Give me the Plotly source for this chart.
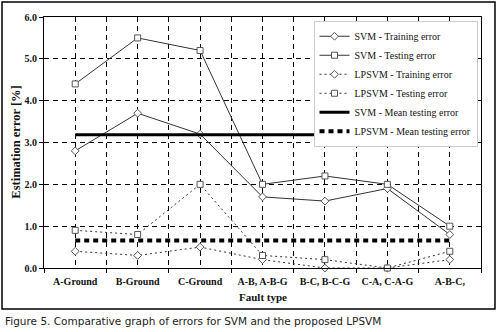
import plotly.graph_objects as go

# Fault categories and error rates [%]
fault_types = ["A-Ground", "B-Ground", "C-Ground", "A-B, A-B-G", "B-C, B-C-G", "C-A, C-A-G", "A-B-C,"]
svm_train = [2.8, 3.7, 3.2, 1.7, 1.6, 1.9, 0.8]
svm_test = [4.4, 5.5, 5.2, 2.0, 2.2, 2.0, 1.0]
lpsvm_train = [0.4, 0.3, 0.5, 0.2, 0.0, 0.0, 0.2]
lpsvm_test = [0.9, 0.8, 2.0, 0.3, 0.2, 0.0, 0.4]
y_ticks = [0, 1, 2, 3, 4, 5, 6]
y_ticktext = ["0.0", "1.0", "2.0", "3.0", "4.0", "5.0", "6.0"]

svm_mean = sum(svm_test) / len(svm_test)
lpsvm_mean = sum(lpsvm_test) / len(lpsvm_test)

xs = list(range(len(fault_types)))
serif = "Liberation Serif"
ink = "#111111"

fig = go.Figure()

def add_series(y, name, symbol, size, dash):
    fig.add_trace(go.Scatter(
        x=xs, y=y, name=name, mode="lines+markers",
        line=dict(color="#333333", width=1, dash=dash),
        marker=dict(symbol=symbol, size=size, color="white",
                    line=dict(color="#555555", width=1)),
        cliponaxis=False,
    ))

add_series(svm_train, "SVM - Training error", "diamond", 6, "solid")
add_series(svm_test, "SVM - Testing error", "square", 6, "solid")
add_series(lpsvm_train, "LPSVM - Training error", "diamond", 6, "2px,3px")
add_series(lpsvm_test, "LPSVM - Testing error", "square", 6, "2px,3px")

fig.add_trace(go.Scatter(
    x=[xs[0], xs[-1]], y=[svm_mean, svm_mean], name="SVM - Mean testing error",
    mode="lines", line=dict(color="black", width=3),
))
fig.add_trace(go.Scatter(
    x=[xs[0], xs[-1]], y=[lpsvm_mean, lpsvm_mean], name="LPSVM - Mean testing error",
    mode="lines", line=dict(color="black", width=4, dash="5px,4px"),
))

tick_font = dict(family=serif, size=10, color=ink, weight="bold")

fig.update_xaxes(
    range=[-0.5, 6.5],
    tickvals=xs, ticktext=fault_types, ticks="",
    tickfont=tick_font, ticklabelstandoff=4,
    showgrid=True, gridcolor="black", gridwidth=1, griddash="5px,4px",
    minor=dict(tick0=0.5, dtick=1, ticks="outside", ticklen=4, tickcolor="black",
               showgrid=True, gridcolor="black", gridwidth=1, griddash="5px,4px"),
    showline=True, linecolor="black", linewidth=1, mirror=True,
    zeroline=False,
)
fig.update_yaxes(
    range=[0, 6],
    tickvals=y_ticks, ticktext=y_ticktext,
    ticks="outside", ticklen=4, tickcolor="black",
    tickfont=tick_font,
    showgrid=True, gridcolor="black", gridwidth=1, griddash="5px,4px",
    showline=True, linecolor="black", linewidth=1, mirror=True,
    zeroline=False,
)

# Frame around the chart and caption
fig.add_shape(type="rect", xref="paper", yref="paper",
              x0=-0.0961, x1=1.032, y0=-0.1633, y1=1.0598,
              line=dict(color="black", width=1.5), fillcolor="rgba(0,0,0,0)")

fig.add_annotation(text="Estimation error [%]", xref="paper", yref="paper",
                   x=-0.066, y=0.5, xanchor="center", yanchor="middle",
                   textangle=-90, showarrow=False,
                   font=dict(family=serif, size=12.5, color=ink, weight="bold"))
fig.add_annotation(text="Fault type", xref="paper", yref="paper",
                   x=0.5, y=-0.116, xanchor="center", yanchor="middle", showarrow=False,
                   font=dict(family=serif, size=11, color=ink, weight="bold"))
fig.add_annotation(text="Figure 5. Comparative graph of errors for SVM and the proposed LPSVM",
                   xref="paper", yref="paper", x=-0.094, y=-0.211,
                   xanchor="left", yanchor="middle", showarrow=False,
                   font=dict(family="DejaVu Sans", size=10.5, color="#222222"))

fig.update_layout(
    width=501, height=332,
    margin=dict(l=44, r=20, t=17, b=64),
    paper_bgcolor="white", plot_bgcolor="white",
    showlegend=True,
    legend=dict(
        x=0.992, y=0.985, xanchor="right", yanchor="top",
        bgcolor="white", bordercolor="#cccccc", borderwidth=1,
        font=dict(family=serif, size=10, color=ink),
        tracegroupgap=0, itemwidth=30,
    ),
)

fig.write_html("out.html")
